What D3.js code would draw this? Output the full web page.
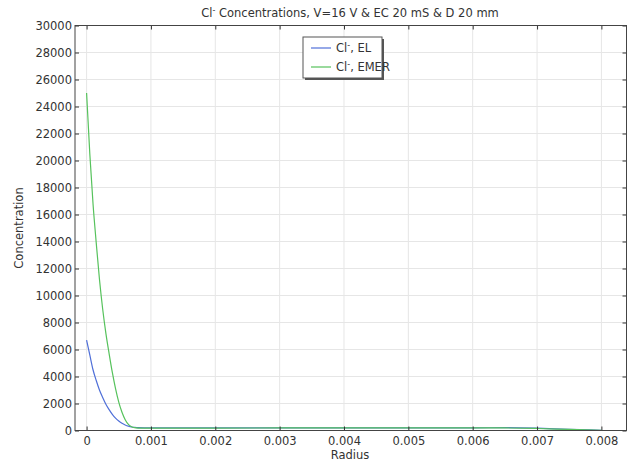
<!DOCTYPE html>
<html>
<head>
<meta charset="utf-8">
<script src="https://cdn.jsdelivr.net/npm/d3@7"></script>
<style>
  body { margin: 0; background: #fff; }
  svg { display: block; font-family: "DejaVu Sans", sans-serif; }
  .grid line { stroke: #e6e6e6; stroke-width: 1; }
  .tick-label { font-size: 11.5px; fill: #333; }
</style>
</head>
<body>
<div id="chart"></div>
<script>
// data
const radius = [0, 0.00005, 0.0001, 0.00015, 0.0002, 0.00025, 0.0003, 0.00035, 0.0004, 0.00045,
  0.0005, 0.00055, 0.0006, 0.00065, 0.0007, 0.00075, 0.0008, 0.0009, 0.001, 0.002, 0.003,
  0.004, 0.005, 0.006, 0.0065, 0.007, 0.0075, 0.008];
const clEL = [6700, 5600, 4500, 3700, 3000, 2450, 1950, 1550, 1200, 920,
  700, 530, 410, 320, 260, 230, 210, 200, 200, 200, 200,
  200, 200, 200, 210, 170, 90, 20];
const clEMER = [25000, 20500, 16800, 13900, 11200, 9000, 7200, 5700, 4300, 3100,
  2100, 1350, 800, 450, 280, 210, 180, 170, 170, 180, 190,
  200, 200, 200, 190, 150, 80, 10];
const xTicks = [0, 0.001, 0.002, 0.003, 0.004, 0.005, 0.006, 0.007, 0.008];
const yTicks = d3.range(0, 30001, 2000);
const seriesNames = ['EL', 'EMER'];
const seriesColors = ['#4f6fd8', '#56c25c'];

const width = 638;
const height = 462;
const marginLeft = 75;
const marginRight = 11.5;
const marginTop = 25.5;
const marginBottom = 31.5;

const svg = d3.select('#chart').append('svg')
  .attr('width', width)
  .attr('height', height);

const x = d3.scaleLinear()
  .domain([-0.00018, 0.00839])
  .range([marginLeft, width - marginRight]);
const y = d3.scaleLinear()
  .domain([0, 30000])
  .range([height - marginBottom, marginTop]);

// grid
const $grid = svg.append('g').attr('class', 'grid');
$grid.selectAll('.gx').data(xTicks).join('line')
  .attr('x1', d => x(d)).attr('x2', d => x(d))
  .attr('y1', marginTop).attr('y2', height - marginBottom);
$grid.selectAll('.gy').data(yTicks).join('line')
  .attr('class', 'gy')
  .attr('x1', marginLeft).attr('x2', width - marginRight)
  .attr('y1', d => y(d)).attr('y2', d => y(d));

// series
const series = [clEL, clEMER];
const line = d3.line()
  .x(d => x(d[0]))
  .y(d => y(d[1]))
  .curve(d3.curveMonotoneX);
series.forEach((vals, i) => {
  svg.append('path')
    .datum(radius.map((r, j) => [r, vals[j]]))
    .attr('fill', 'none')
    .attr('stroke', seriesColors[i])
    .attr('stroke-width', 1.2)
    .attr('d', line);
});

// axes (ticks point inward, on all four sides)
const tickLen = 4;
svg.append('g')
  .attr('transform', `translate(0,${height - marginBottom})`)
  .call(d3.axisBottom(x).tickValues(xTicks).tickSizeInner(-tickLen).tickSizeOuter(0).tickFormat(d3.format('')))
  .call(g => g.select('.domain').remove())
  .call(g => g.selectAll('text').attr('class', 'tick-label').attr('dy', '0.71em').attr('y', 6));
svg.append('g')
  .attr('transform', `translate(0,${marginTop})`)
  .call(d3.axisTop(x).tickValues(xTicks).tickSizeInner(-tickLen).tickSizeOuter(0).tickFormat(''))
  .call(g => g.select('.domain').remove());
svg.append('g')
  .attr('transform', `translate(${marginLeft},0)`)
  .call(d3.axisLeft(y).tickValues(yTicks).tickSizeInner(-tickLen).tickSizeOuter(0).tickFormat(d3.format('d')))
  .call(g => g.select('.domain').remove())
  .call(g => g.selectAll('text').attr('class', 'tick-label').attr('x', -3));
svg.append('g')
  .attr('transform', `translate(${width - marginRight},0)`)
  .call(d3.axisRight(y).tickValues(yTicks).tickSizeInner(-tickLen).tickSizeOuter(0).tickFormat(''))
  .call(g => g.select('.domain').remove());
svg.selectAll('.tick line').attr('stroke', '#333');
svg.selectAll('.tick text').attr('fill', '#333').style('font-family', '"DejaVu Sans", sans-serif');

// frame
svg.append('rect')
  .attr('x', marginLeft).attr('y', marginTop)
  .attr('width', width - marginLeft - marginRight)
  .attr('height', height - marginTop - marginBottom)
  .attr('fill', 'none').attr('stroke', '#444').attr('stroke-width', 1);

// title
const title = svg.append('text')
  .attr('x', 350).attr('y', 17)
  .attr('text-anchor', 'middle')
  .attr('font-size', 11.5).attr('fill', '#333');
title.append('tspan').text('Cl');
title.append('tspan').attr('dy', -4).attr('font-size', 8).text('-');
title.append('tspan').attr('dy', 4).text(' Concentrations, V=16 V & EC 20 mS & D 20 mm');

// axis labels
svg.append('text')
  .attr('x', 350).attr('y', 459)
  .attr('text-anchor', 'middle')
  .attr('font-size', 11.5).attr('fill', '#333')
  .text('Radius');
svg.append('text')
  .attr('transform', 'translate(23,228) rotate(-90)')
  .attr('text-anchor', 'middle')
  .attr('font-size', 11.5).attr('fill', '#333')
  .text('Concentration');

// legend
const lgX = 303;
const lgY = 37;
const lgW = 79;
const lgH = 41;
svg.append('rect')
  .attr('x', lgX + 2).attr('y', lgY + 2)
  .attr('width', lgW).attr('height', lgH)
  .attr('fill', '#555');
svg.append('rect')
  .attr('x', lgX).attr('y', lgY)
  .attr('width', lgW).attr('height', lgH)
  .attr('fill', '#fff').attr('stroke', '#555').attr('stroke-width', 1);
seriesNames.forEach((name, i) => {
  const ly = lgY + 11 + i * 19;
  svg.append('line')
    .attr('x1', lgX + 8).attr('x2', lgX + 28)
    .attr('y1', ly).attr('y2', ly)
    .attr('stroke', seriesColors[i]).attr('stroke-width', 1.2);
  const t = svg.append('text')
    .attr('x', lgX + 33).attr('y', ly + 4)
    .attr('font-size', 11.5).attr('fill', '#333');
  t.append('tspan').text('Cl');
  t.append('tspan').attr('dy', -4).attr('font-size', 8).text('-');
  t.append('tspan').attr('dy', 4).text(`, ${name}`);
});
</script>
</body>
</html>
